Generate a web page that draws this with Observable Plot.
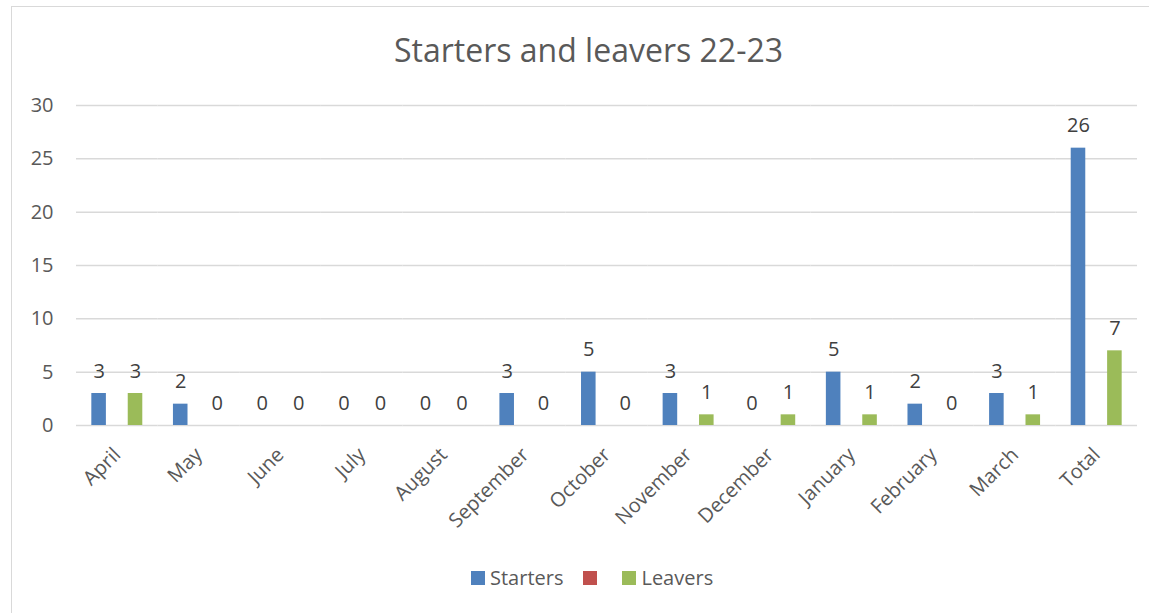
<!DOCTYPE html>
<html><head><meta charset="utf-8">
<script src="https://cdn.jsdelivr.net/npm/d3@7"></script>
<script src="https://cdn.jsdelivr.net/npm/@observablehq/plot@0.6"></script>
<style>
html,body{margin:0;padding:0;background:#fff;overflow:hidden;}
#chart{position:absolute;left:11px;top:6px;width:1150px;height:620px;overflow:hidden;border-top:1px solid #d9d9d9;border-left:1px solid #d9d9d9;font-family:"Open Sans",sans-serif;color:#595959;}
#title{width:1153px;text-align:center;font-size:32px;line-height:44px;padding-top:21px;height:44px;white-space:nowrap;}
#plot svg{display:block}
#legend{display:flex;align-items:center;margin-top:19px;padding-left:459px;font-size:20px;line-height:28px;white-space:nowrap;}
.item{display:flex;align-items:center;margin-right:20px}
.sw{width:14px;height:14px;display:inline-block;margin-right:5px}
</style></head><body>
<div id="chart"><div id="title">Starters and leavers 22-23</div><div id="plot"></div><div id="legend"></div></div>
<script>
const months = ["April","May","June","July","August","September","October","November","December","January","February","March","Total"];
const seriesNames = ["Starters", "", "Leavers"];
const seriesColors = ["#4f81bd", "#c0504d", "#9bbb59"];
const starters = [3,2,0,0,0,3,5,3,0,5,2,3,26];
const blank = [null,null,null,null,null,null,null,null,null,null,null,null,null];
const leavers = [3,0,0,0,0,0,0,1,1,1,0,1,7];
const yTicks = [0,5,10,15,20,25,30];

const values = [starters, blank, leavers];
const rows = [];
values.forEach((arr, s) => arr.forEach((v, i) => { if (v != null) rows.push({month: months[i], s, v}); }));

const chart = Plot.plot({
  width: 1137, height: 473,
  marginLeft: 64, marginRight: 12, marginTop: 33, marginBottom: 120,
  style: {fontFamily: '"Open Sans", sans-serif', fontSize: "20px", color: "#595959", background: "transparent", overflow: "visible"},
  fx: {domain: months, padding: 0, round: false, label: null},
  x: {type: "band", domain: [0,1,2], paddingInner: 0.2, paddingOuter: 0.842, round: false, axis: null},
  y: {domain: [0,30], axis: null},
  marks: [
    Plot.ruleY(yTicks, {stroke: "#d9d9d9", strokeWidth: 1.5}),
    Plot.axisY({ticks: yTicks, tickSize: 0, tickPadding: 23, label: null, fontSize: 20, fill: "#595959"}),
    Plot.barY(rows, {fx: "month", x: "s", y: "v", fill: d => seriesColors[d.s]}),
    Plot.text(rows, {fx: "month", x: "s", y: "v", text: d => String(d.v), dy: -16, lineAnchor: "bottom", fill: "#404040", fontSize: 20}),
    Plot.axisFx({anchor: "bottom", tickRotate: -45, tickSize: 0, tickPadding: 26, dx: 0, label: null, fontSize: 20, fill: "#595959"})
  ]
});
document.getElementById("plot").appendChild(chart);

const legend = document.getElementById("legend");
seriesNames.forEach((name, i) => {
  const item = document.createElement("span");
  item.className = "item";
  const sw = document.createElement("span");
  sw.className = "sw";
  sw.style.background = seriesColors[i];
  const lab = document.createElement("span");
  lab.textContent = name;
  item.appendChild(sw);
  item.appendChild(lab);
  legend.appendChild(item);
});
</script>
</body></html>
